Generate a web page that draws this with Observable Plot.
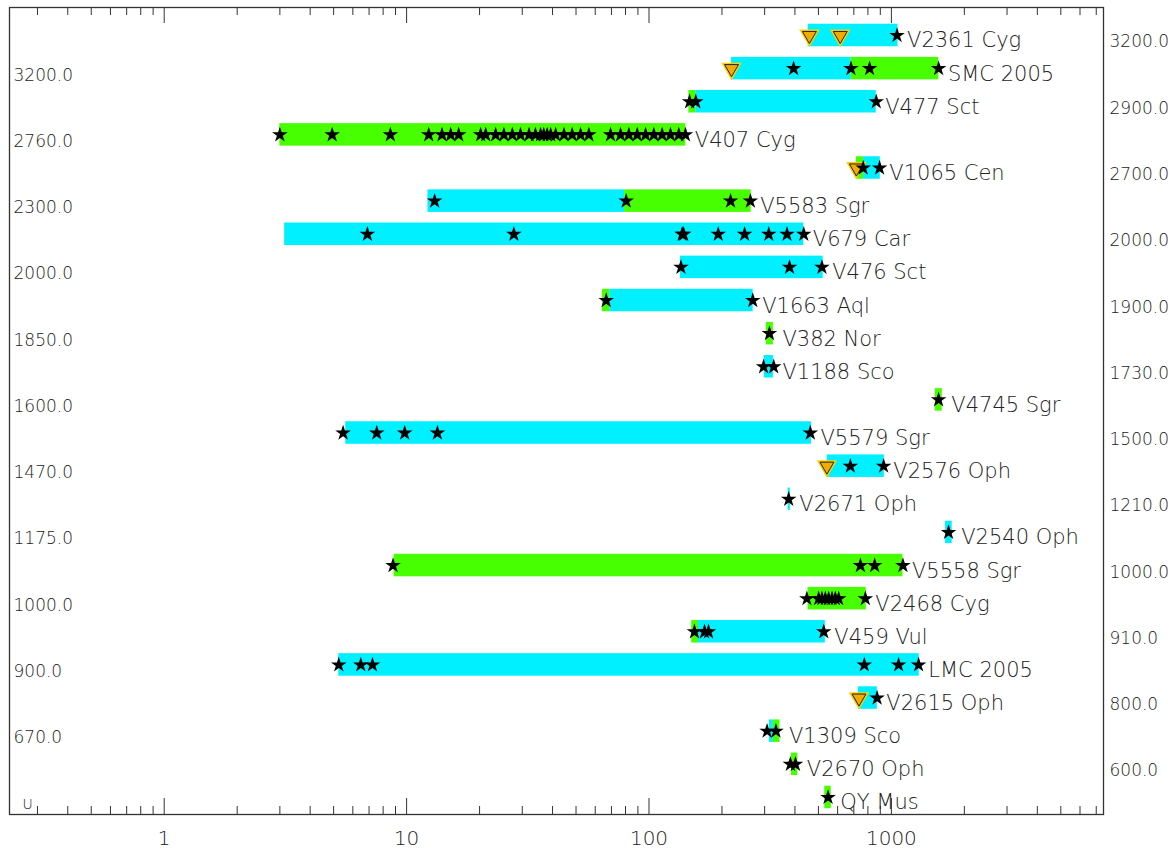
<!DOCTYPE html>
<html><head><meta charset="utf-8">
<script src="https://cdn.jsdelivr.net/npm/d3@7"></script>
<script src="https://cdn.jsdelivr.net/npm/@observablehq/plot@0.6"></script>
<style>
html,body{margin:0;padding:0;background:#fff;}
#chart svg{display:block;}
</style></head><body><div id="chart"></div>
<script>
// ---- data (row order top to bottom) ----
const novae = ["V2361 Cyg","SMC 2005","V477 Sct","V407 Cyg","V1065 Cen","V5583 Sgr","V679 Car","V476 Sct",
  "V1663 Aql","V382 Nor","V1188 Sco","V4745 Sgr","V5579 Sgr","V2576 Oph","V2671 Oph","V2540 Oph",
  "V5558 Sgr","V2468 Cyg","V459 Vul","LMC 2005","V2615 Oph","V1309 Sco","V2670 Oph","QY Mus"];
const leftTags  = ["","3200.0","","2760.0","","2300.0","","2000.0","","1850.0","","1600.0","","1470.0","","1175.0","","1000.0","","900.0","","670.0","","U"];
const rightTags = ["3200.0","","2900.0","","2700.0","","2000.0","","1900.0","","1730.0","","1500.0","","1210.0","","1000.0","","910.0","","800.0","","600.0",""];
// phase A (cyan) intervals: [row, start day, end day]
const segPhaseA = [[0,454,1065],[1,219,683],[2,156,866],[4,768,900],[5,12.25,79.3],[6,3.14,435],[7,134.9,523],
  [8,68.9,269],[10,299,326],[12,5.61,468],[13,544,935],[14,375,383],[15,1673,1782],[18,160,534],
  [19,5.25,1303],[20,731,875],[21,314,326]];
// phase B (green) intervals: [row, start day, end day]
const segPhaseB = [[1,683,1570],[2,146,156],[3,3.0,141.8],[4,717,768],[5,79.3,264],[8,64.3,68.9],[9,305,326],
  [11,1517,1622],[16,8.88,1116],[17,453,788],[18,150,160],[21,326,347],[22,387,411],[23,531,565]];
// star observation days per row
const starDays = [
  [1055],
  [395,681,813,1566],
  [147,156,866],
  [3.0,4.93,8.57,12.34,14.0,15.2,16.4,20.2,21.2,23.3,25.2,27.3,29.5,32.0,34.0,35.7,36.8,38.0,39.3,41.2,44.6,48.2,52.2,56.5,69.4,76.3,82.6,89.4,96.8,104.7,113.3,122.6,132.7,141.4],
  [765,894],
  [13.05,80.5,217,262],
  [6.89,27.7,137,139,193,248,312,371,435],
  [135.5,380,517],
  [66.6,268],
  [314],
  [297,327],
  [1566],
  [5.47,7.53,9.82,13.4,463],
  [677,929],
  [377],
  [1721],
  [8.79,745,853,1116],
  [448,501,517,534,551,569,587,606,781],
  [154,169.5,176,526],
  [5.25,6.47,7.23,773,1071,1295],
  [873],
  [307,334],
  [383,402],
  [548]
];
// upper-limit triangles: [row, day]
const triangleDays = [[0,459],[0,615],[1,219],[4,717],[13,542],[20,735]];
// axis ticks
const majorTicks = [1,10,100,1000];
const minorTicks = [0.3,0.4,0.5,0.6,0.7,0.8,0.9,2,3,4,5,6,7,8,9,20,30,40,50,60,70,80,90,200,300,400,500,600,700,800,900,2000,3000,4000,5000,6000,7000];

// ---- derived tables ----
const segs = [
  ...segPhaseA.map(([row,x1,x2]) => ({row,x1,x2,type:"A"})),
  ...segPhaseB.map(([row,x1,x2]) => ({row,x1,x2,type:"B"}))
];
const stars = starDays.flatMap((arr,row) => arr.map(x => ({row,x})));
const tris = triangleDays.map(([row,x]) => ({row,x}));
const ends = novae.map((name,row) => ({row,name,x:d3.max(segs.filter(s=>s.row===row), s=>s.x2)}));
const leftAll = leftTags.map((t,row)=>({row,t}));
const lefts = leftAll.filter(d=>d.t && d.t!=="U");
const leftU = leftAll.filter(d=>d.t==="U");
const rights = rightTags.map((t,row)=>({row,t})).filter(d=>d.t);

const innerH = 853 - 7 - 39;
const txt = "#222";
const chart = Plot.plot({
  width: 1176, height: 853,
  marginLeft: 9, marginRight: 73, marginTop: 7, marginBottom: 39,
  x: {type:"log", domain:[0.23, 7500], axis:null},
  y: {domain:[23.515, -0.845], axis:null},
  color: {type:"ordinal", domain:["A","B"], range:["#00f0ff","#48ff00"]},
  style: {fontFamily:"'DejaVu Sans', sans-serif", background:"#fff", overflow:"visible"},
  marks: [
    Plot.rect(segs, {x1:"x1", x2:"x2", y1:d=>d.row-0.34, y2:d=>d.row+0.34, fill:"type"}),
    Plot.dot(tris, {x:"x", y:"row", symbol:"triangle", rotate:180, r:7.6, fill:"#ffd000"}),
    Plot.dot(tris, {x:"x", y:"row", symbol:"triangle", rotate:180, r:5.2, fill:"#f2ac00", stroke:"#222", strokeWidth:1}),
    Plot.dot(stars, {x:"x", y:"row", symbol:"star", r:4.9, fill:"black"}),
    Plot.frame({stroke:"#333", strokeWidth:1.3}),
    Plot.ruleX(minorTicks, {x:d=>d, insetTop: innerH-8, stroke:"#333"}),
    Plot.ruleX(majorTicks, {x:d=>d, insetTop: innerH-16, stroke:"#333"}),
    Plot.ruleX(minorTicks, {x:d=>d, insetBottom: innerH-8, stroke:"#333"}),
    Plot.ruleX(majorTicks, {x:d=>d, insetBottom: innerH-16, stroke:"#333"}),
    Plot.text(majorTicks, {x:d=>d, frameAnchor:"bottom", dy:16, lineAnchor:"top", text:d=>String(d), fontSize:20, fill:txt, fontWeight:200}),
    Plot.text(ends, {x:"x", y:"row", text:"name", dx:9, dy:12, textAnchor:"start", lineAnchor:"bottom", fontSize:21, fill:txt, fontWeight:200}),
    Plot.text(lefts, {y:"row", text:"t", frameAnchor:"left", dx:4, dy:12, textAnchor:"start", lineAnchor:"bottom", fontSize:17, fill:txt, fontWeight:200}),
    Plot.text(leftU, {y:"row", text:"t", frameAnchor:"left", dx:13, dy:12, textAnchor:"start", lineAnchor:"bottom", fontSize:14, fill:txt, fontWeight:200}),
    Plot.text(rights, {y:"row", text:"t", frameAnchor:"right", dx:6, dy:12, textAnchor:"start", lineAnchor:"bottom", fontSize:17, fill:txt, fontWeight:200})
  ]
});
document.getElementById("chart").appendChild(chart);
</script>
</body></html>
